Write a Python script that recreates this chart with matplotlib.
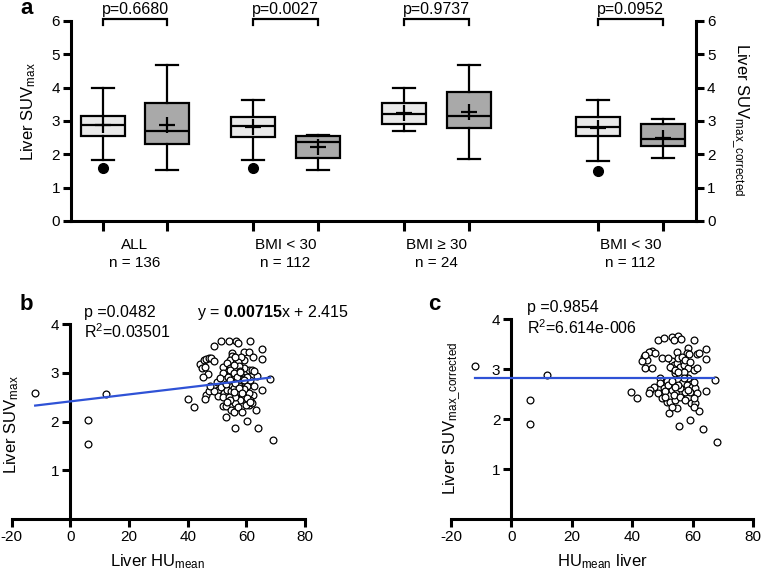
import numpy as np
import matplotlib
matplotlib.use("Agg")
import matplotlib.pyplot as plt

plt.rcParams['font.family'] = ['Liberation Sans', 'DejaVu Sans']
plt.rcParams['mathtext.fontset'] = 'custom'
plt.rcParams['mathtext.rm'] = 'Liberation Sans'
plt.rcParams['mathtext.it'] = 'Liberation Sans:italic'
plt.rcParams['mathtext.bf'] = 'Liberation Sans:bold'
plt.rcParams['axes.unicode_minus'] = False

# ---------------- data: panel a ----------------
group_labels = ['ALL\nn = 136', 'BMI < 30\nn = 112', 'BMI ≥ 30\nn = 24', 'BMI < 30\nn = 112']
p_values = ['p=0.6680', 'p=0.0027', 'p=0.9737', 'p=0.0952']
box_med = [2.88, 2.71, 2.85, 2.38, 3.20, 3.15, 2.83, 2.47]
box_q1 = [2.55, 2.31, 2.53, 1.89, 2.91, 2.79, 2.54, 2.25]
box_q3 = [3.15, 3.54, 3.11, 2.55, 3.53, 3.87, 3.13, 2.90]
box_lo = [1.83, 1.52, 1.83, 1.52, 2.70, 1.86, 1.79, 1.88]
box_hi = [4.00, 4.67, 3.64, 2.57, 4.00, 4.67, 3.64, 3.06]
box_mean = [2.88, 2.88, 2.81, 2.23, 3.25, 3.27, 2.80, 2.50]
box_fliers = [[1.60], [], [1.60], [], [], [], [1.50], []]

# ---------------- data: panel b ----------------
hu_b = [-12.0, 5.9, 5.9, 12.0, 68.2, 69.1, 40.0, 42.0, 63.9, 56.0, 60.2, 53.2, 51.3, 49.1,
        54.2, 56.6, 57.3, 61.1, 65.2, 65.2, 65.2, 63.5, 63.2, 44.1, 45.5, 46.4, 47.2, 48.0,
        48.9, 44.9, 45.9, 47.0, 45.2, 46.1, 45.9, 47.3, 50.0, 50.2, 50.2, 51.5, 52.0, 52.1,
        52.3, 52.0, 53.0, 54.1, 54.3, 54.8, 55.7, 55.0, 55.0, 54.5, 53.4, 54.5, 55.7, 54.3,
        54.5, 55.7, 56.8, 57.4, 56.2, 58.0, 56.8, 58.6, 59.1, 59.7, 60.2, 61.4, 60.8, 61.9,
        59.1, 59.3, 59.1, 60.9, 58.2, 57.0, 57.4, 62.3, 62.5, 62.5, 62.3, 61.4, 60.8, 60.0,
        61.9, 58.0, 56.2, 57.0, 58.2, 55.5, 54.5, 53.4, 53.0, 56.2, 57.7, 58.9, 60.2, 60.8,
        59.3, 56.0, 54.8, 53.8, 55.7, 48.9, 47.7, 51.1, 52.1, 57.0, 58.6, 55.7, 57.5, 54.5,
        55.7, 56.8, 54.5, 58.0, 59.1, 56.3, 57.4, 58.5, 55.7, 54.0, 54.5, 53.4, 60.2, 61.4]
suv_b = [2.59, 2.03, 1.54, 2.57, 2.87, 1.62, 2.46, 2.31, 1.88, 1.88, 2.02, 2.10, 3.65, 3.54,
         3.66, 3.66, 3.62, 3.65, 3.48, 3.28, 2.65, 2.94, 2.24, 3.18, 3.26, 3.29, 3.31, 3.30,
         3.25, 3.09, 3.11, 2.98, 2.91, 2.54, 2.47, 2.62, 2.82, 2.65, 2.53, 2.70, 3.11, 3.00,
         2.58, 2.32, 2.32, 2.51, 2.44, 2.24, 2.20, 3.40, 3.34, 3.26, 3.20, 3.09, 3.06, 3.02,
         2.96, 2.91, 2.85, 2.78, 2.72, 2.65, 2.58, 2.55, 2.51, 2.65, 2.72, 2.85, 3.06, 3.06,
         3.09, 3.26, 3.43, 3.43, 3.33, 3.23, 3.13, 3.33, 3.03, 2.72, 2.55, 2.44, 2.34, 2.34,
         2.38, 2.44, 2.38, 2.96, 2.94, 2.82, 2.72, 2.65, 2.78, 3.33, 3.03, 2.87, 2.91, 2.59,
         2.67, 2.51, 2.63, 2.91, 3.16, 2.62, 2.72, 2.89, 2.51, 2.29, 2.20, 2.69, 2.72, 3.06,
         2.99, 2.92, 2.85, 3.02, 2.85, 2.79, 2.68, 2.58, 2.61, 2.51, 2.44, 2.41, 2.48, 2.41]
fit_b_slope = 0.00715
fit_b_intercept = 2.415

# ---------------- data: panel c ----------------
hu_c = [-11.9, 6.0, 6.0, 11.9, 39.7, 41.5, 48.5, 50.5, 53.1, 55.3, 56.2, 53.7, 60.4, 64.4,
        64.4, 61.5, 58.6, 58.1, 54.8, 53.1, 46.5, 45.4, 47.6, 43.8, 44.9, 43.2, 44.3, 46.5,
        49.3, 47.1, 46.0, 45.4, 49.3, 50.4, 50.9, 51.5, 53.1, 53.7, 54.8, 55.9, 57.0, 58.6,
        60.3, 61.4, 55.3, 56.4, 57.5, 59.2, 54.2, 55.9, 57.5, 58.6, 55.1, 56.5, 58.1, 59.7,
        60.9, 53.1, 54.8, 56.5, 57.5, 59.2, 61.4, 64.4, 67.5, 51.5, 52.6, 54.2, 54.8, 52.3,
        59.5, 60.9, 60.3, 62.0, 55.6, 59.2, 63.3, 68.0, 48.7, 49.8, 53.7, 55.9, 52.0, 53.1,
        57.1, 49.8, 52.0, 58.9, 62.0, 52.6, 54.2, 55.3, 57.0, 55.3, 54.2, 58.6, 60.3, 50.9,
        55.9, 57.5, 53.1, 60.3, 44.3]
suv_c = [3.07, 2.38, 1.90, 2.88, 2.55, 2.43, 3.59, 3.63, 3.65, 3.67, 3.61, 3.59, 3.59, 3.41,
         3.21, 3.30, 3.42, 3.32, 3.35, 3.17, 3.37, 3.34, 3.32, 3.25, 3.19, 3.17, 3.02, 3.02,
         2.83, 2.65, 2.59, 2.52, 2.72, 2.63, 2.57, 2.77, 3.02, 3.09, 3.12, 3.05, 3.09, 3.02,
         2.99, 3.02, 3.22, 3.25, 3.19, 3.15, 2.92, 2.89, 2.85, 2.83, 2.79, 2.72, 2.69, 2.65,
         2.62, 2.59, 2.55, 2.52, 2.55, 2.55, 2.52, 2.57, 2.79, 2.34, 2.34, 2.39, 2.22, 2.12,
         2.32, 2.32, 2.43, 2.17, 1.87, 1.99, 1.81, 1.54, 2.52, 2.42, 2.49, 2.62, 2.69, 2.77,
         2.95, 3.22, 3.22, 3.30, 3.32, 3.05, 2.99, 2.95, 2.82, 2.69, 2.65, 2.59, 2.75, 2.45,
         2.45, 2.39, 2.25, 2.25, 3.29]
fit_c_slope = 0.0
fit_c_intercept = 2.82

# ---------------- figure ----------------
W, H = 761, 575
fig = plt.figure(figsize=(W / 100, H / 100), dpi=100)


def fx(px):
    return px / W


def fy(py):
    return 1 - py / H


SPINE_LW = 2.2
LINE_LW = 1.6
TICK_FS = 11

# ---- panel a ----
axa = fig.add_axes([fx(71), fy(221), fx(696) - fx(71), fy(21) - fy(221)])
positions = [32, 96, 182, 247, 333, 398, 527, 592]
stats = []
for i in range(len(box_med)):
    stats.append(dict(med=box_med[i], q1=box_q1[i], q3=box_q3[i], whislo=box_lo[i],
                      whishi=box_hi[i], fliers=box_fliers[i], mean=box_mean[i]))
bp = axa.bxp(stats, positions=positions, widths=44, showmeans=True, patch_artist=True,
             boxprops=dict(edgecolor='black', linewidth=LINE_LW),
             medianprops=dict(color='black', linewidth=LINE_LW),
             whiskerprops=dict(color='black', linewidth=LINE_LW),
             capprops=dict(color='black', linewidth=LINE_LW),
             meanprops=dict(marker='+', markersize=11, markeredgecolor='black',
                            markeredgewidth=1.6),
             flierprops=dict(marker='o', markerfacecolor='black', markeredgecolor='black',
                             markersize=7))
for i, box in enumerate(bp['boxes']):
    box.set_facecolor('#e9e9e9' if i % 2 == 0 else '#a9a9a9')
for art in bp['fliers']:
    art.set_clip_on(False)

axa.set_xlim(0, 625)
axa.set_ylim(0, 6)
axa.set_yticks(range(0, 7))
axa.set_xticks(positions)
axa.set_xticklabels([])
mids = [(positions[2 * k] + positions[2 * k + 1]) / 2 for k in range(4)]
axa.set_xticks(mids, minor=True)
axa.set_xticklabels(group_labels, minor=True, fontsize=TICK_FS, linespacing=1.35)
axa.tick_params(axis='x', which='minor', length=0, pad=12)
axa.tick_params(axis='x', which='major', direction='out', length=7, width=SPINE_LW)
axa.tick_params(axis='y', direction='out', length=6, width=SPINE_LW, labelsize=TICK_FS, pad=2)
axa.spines['top'].set_visible(False)
for s in ['left', 'bottom']:
    axa.spines[s].set_linewidth(SPINE_LW)
axa.spines['right'].set_visible(False)

axr = axa.twinx()
axr.set_ylim(0, 6)
axr.set_yticks(range(0, 7))
axr.tick_params(axis='y', direction='out', length=6, width=SPINE_LW, labelsize=TICK_FS, pad=2)
for s in ['top', 'left', 'bottom']:
    axr.spines[s].set_visible(False)
axr.spines['right'].set_linewidth(SPINE_LW)

# p-value brackets
for k in range(4):
    x1, x2 = positions[2 * k], positions[2 * k + 1]
    axa.plot([x1, x1, x2, x2], [5.88, 6.06, 6.06, 5.88], color='black', lw=1.6,
             clip_on=False, solid_joinstyle='miter')
    axa.text((x1 + x2) / 2, 6.13, p_values[k], ha='center', va='bottom', fontsize=11.5)

fig.text(fx(29), fy(112), r'Liver SUV$_{\mathregular{max}}$', rotation=90,
         ha='center', va='center', fontsize=12)
fig.text(fx(740), fy(120), r'Liver SUV$_{\mathregular{max\_corrected}}$', rotation=270,
         ha='center', va='center', fontsize=12)
fig.text(fx(27), fy(9), 'a', fontsize=16, fontweight='bold', ha='center', va='center')


# ---- scatter panels ----
def scatter_panel(rect, hu, suv, slope, intercept):
    ax = fig.add_axes(rect)
    ax.scatter(hu, suv, s=24, facecolors='white', edgecolors='black', linewidths=0.9,
               zorder=3, clip_on=False)
    xs = np.array([np.min(hu), np.max(hu) - 1])
    ax.plot(xs, slope * xs + intercept, color='#2f52d6', lw=1.6, zorder=4)
    ax.set_xlim(-20, 80)
    ax.set_ylim(0, 4)
    ax.set_xticks([-20, 0, 20, 40, 60, 80])
    ax.set_yticks([1, 2, 3, 4])
    ax.spines['left'].set_position(('data', 0))
    ax.spines['top'].set_visible(False)
    ax.spines['right'].set_visible(False)
    ax.spines['left'].set_linewidth(SPINE_LW)
    ax.spines['bottom'].set_linewidth(SPINE_LW)
    ax.tick_params(direction='out', length=6, width=SPINE_LW, labelsize=TICK_FS, pad=2)
    ax.patch.set_alpha(0)
    return ax


axb = scatter_panel([fx(11.7), fy(519.3), fx(305) - fx(11.7), fy(324) - fy(519.3)],
                    hu_b, suv_b, fit_b_slope, fit_b_intercept)
axc = scatter_panel([fx(451), fy(519.3), fx(753) - fx(451), fy(319.3) - fy(519.3)],
                    hu_c, suv_c, fit_c_slope, fit_c_intercept)

fig.text(fx(26), fy(304), 'b', fontsize=16, fontweight='bold', ha='center', va='center')
fig.text(fx(434), fy(305), 'c', fontsize=16, fontweight='bold', ha='center', va='center')

fig.text(fx(84), fy(312), 'p =0.0482', fontsize=11.5, ha='left', va='center')
fig.text(fx(84), fy(332), r'R$^{2}$=0.03501', fontsize=11.5, ha='left', va='center')
fig.text(fx(197), fy(312), r'y = $\mathbf{0.00715}$x + 2.415', fontsize=11.5,
         ha='left', va='center')
fig.text(fx(527), fy(308), 'p =0.9854', fontsize=11.5, ha='left', va='center')
fig.text(fx(527), fy(328), r'R$^{2}$=6.614e-006', fontsize=11.5, ha='left', va='center')

fig.text(fx(12), fy(425), r'Liver SUV$_{\mathregular{max}}$', rotation=90,
         ha='center', va='center', fontsize=12)
fig.text(fx(158), fy(562), r'Liver HU$_{\mathregular{mean}}$', ha='center', va='center',
         fontsize=12)
fig.text(fx(452), fy(418), r'Liver SUV$_{\mathregular{max\_corrected}}$', rotation=90,
         ha='center', va='center', fontsize=12)
fig.text(fx(602), fy(562), r'HU$_{\mathregular{mean}}$ liver', ha='center', va='center',
         fontsize=12)

fig.savefig('out.png', dpi=100)
